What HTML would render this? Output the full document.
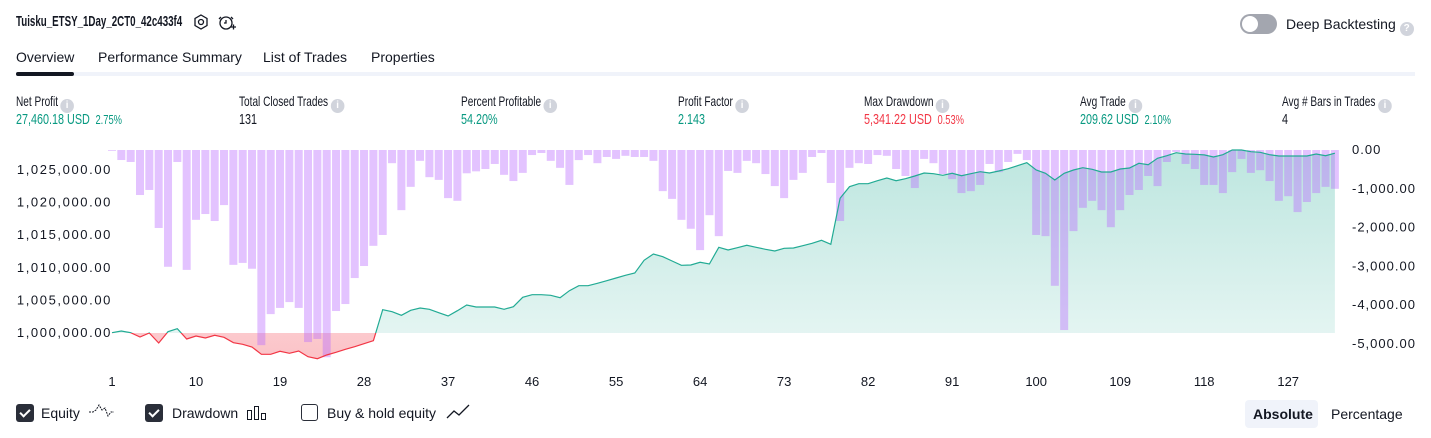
<!DOCTYPE html>
<html><head><meta charset="utf-8">
<style>
html,body{margin:0;padding:0;background:#fff;width:1431px;height:438px;overflow:hidden;position:relative;font-family:"Liberation Sans",sans-serif;color:#131722}
.a{position:absolute;white-space:nowrap;font-size:14px;line-height:16px;transform-origin:0 50%}
.s{transform:scaleX(.72)}
.g{color:#089981}.r{color:#f23645}
.info{display:inline-block;width:14px;height:14px;border-radius:50%;background:#d1d4dc;color:#fff;font-size:10px;line-height:14px;text-align:center;vertical-align:-2px;margin-left:6px;font-weight:bold;transform:scaleX(1.35)}
.cb{position:absolute;width:18px;height:18px;border-radius:3px;top:404px}
.cb.on{background:#2a2e39}
.cb.off{border:1.5px solid #2a2e39;width:15px;height:15px;background:#fff}
.cb.on::after{content:"";position:absolute;left:6px;top:3px;width:4px;height:8px;border:solid #fff;border-width:0 2px 2px 0;transform:rotate(45deg)}
</style></head><body>
<div class="a" style="left:16px;top:14px;font-weight:bold;font-size:15px;transform:scaleX(.65)">Tuisku_ETSY_1Day_2CT0_42c433f4</div>
<svg style="position:absolute;left:191px;top:12px" width="20" height="20"><polygon points="10,3 16,6.5 16,13.5 10,17 4,13.5 4,6.5" fill="none" stroke="#131722" stroke-width="1.3"/><circle cx="10" cy="10" r="2.5" fill="none" stroke="#131722" stroke-width="1.3"/></svg>
<svg style="position:absolute;left:216px;top:12px" width="22" height="22"><circle cx="10" cy="11" r="6" fill="none" stroke="#131722" stroke-width="1.3"/><path d="M10 8v3h-2M5 5l-2 2M15 5l2 2M15 15h5M17.5 12.5v5" fill="none" stroke="#131722" stroke-width="1.3"/></svg>
<div style="position:absolute;left:1240px;top:14px;width:37px;height:20px;border-radius:10px;background:#a3a6af"><div style="position:absolute;left:2px;top:2px;width:16px;height:16px;border-radius:50%;background:#fff"></div></div>
<div class="a" style="left:1286px;top:16px;font-size:14px">Deep Backtesting<span class="info" style="margin-left:4px;transform:none">?</span></div>

<div class="a" style="left:16px;top:49px">Overview</div>
<div class="a" style="left:98px;top:49px">Performance Summary</div>
<div class="a" style="left:263px;top:49px">List of Trades</div>
<div class="a" style="left:371px;top:49px">Properties</div>
<div style="position:absolute;left:16px;top:72px;width:1399px;height:4px;background:#f0f3fa"></div>
<div style="position:absolute;left:16px;top:72px;width:58px;height:4px;border-radius:2px;background:#131722"></div>

<div class="a s" style="left:16px;top:93px">Net Profit<span class="info">i</span></div>
<div class="a s g" style="left:16px;top:112px;font-size:15px">27,460.18 USD <span style="font-size:13px">&nbsp;2.75%</span></div>
<div class="a s" style="left:239px;top:93px">Total Closed Trades<span class="info">i</span></div>
<div class="a s" style="left:239px;top:112px;font-size:15px">131</div>
<div class="a s" style="left:461px;top:93px">Percent Profitable<span class="info">i</span></div>
<div class="a s g" style="left:461px;top:112px;font-size:15px">54.20%</div>
<div class="a s" style="left:678px;top:93px">Profit Factor<span class="info">i</span></div>
<div class="a s g" style="left:678px;top:112px;font-size:15px">2.143</div>
<div class="a s" style="left:864px;top:93px">Max Drawdown<span class="info">i</span></div>
<div class="a s r" style="left:864px;top:112px;font-size:15px">5,341.22 USD <span style="font-size:13px">&nbsp;0.53%</span></div>
<div class="a s" style="left:1080px;top:93px">Avg Trade<span class="info">i</span></div>
<div class="a s g" style="left:1080px;top:112px;font-size:15px">209.62 USD <span style="font-size:13px">&nbsp;2.10%</span></div>
<div class="a s" style="left:1282px;top:93px">Avg # Bars in Trades<span class="info">i</span></div>
<div class="a s" style="left:1282px;top:112px;font-size:15px">4</div>

<svg id="chart" style="position:absolute;left:0;top:0" width="1431" height="438">
<defs>
<linearGradient id="gg" x1="0" y1="0" x2="0" y2="1"><stop offset="0" stop-color="#22ab94" stop-opacity=".3"/><stop offset="1" stop-color="#22ab94" stop-opacity=".1"/></linearGradient>
<linearGradient id="rg" x1="0" y1="0" x2="0" y2="1"><stop offset="0" stop-color="#f23645" stop-opacity=".03"/><stop offset="1" stop-color="#f23645" stop-opacity=".3"/></linearGradient>
<clipPath id="above"><rect x="0" y="0" width="1431" height="333"/></clipPath>
<clipPath id="below"><rect x="0" y="333" width="1431" height="100"/></clipPath>
</defs>
<g id="ylab"></g><g id="rlab"></g><g id="xlab"></g>
<g id="area"></g><g id="bars"></g><g id="line"></g>
</svg>

<div class="cb on" style="left:16px"></div>
<div class="a" style="left:41px;top:405px;font-size:14px">Equity</div>
<svg style="position:absolute;left:88px;top:402px" width="26" height="20"><path d="M1 10h4l3-2 3-5 3 5 3-2 3 8 3-4h3" fill="none" stroke="#131722" stroke-width="1" stroke-dasharray="2 1"/></svg>
<div class="cb on" style="left:145px"></div>
<div class="a" style="left:172px;top:405px;font-size:14px">Drawdown</div>
<svg style="position:absolute;left:246px;top:404px" width="22" height="18"><rect x="1.5" y="6.5" width="4" height="9" fill="none" stroke="#131722"/><rect x="8.5" y="2.5" width="4" height="13" fill="none" stroke="#131722"/><rect x="15.5" y="9.5" width="4" height="6" fill="none" stroke="#131722"/></svg>
<div class="cb off" style="left:301px"></div>
<div class="a" style="left:327px;top:405px;font-size:14px">Buy &amp; hold equity</div>
<svg style="position:absolute;left:445px;top:403px" width="26" height="18"><path d="M2 15l7-7 5 4 10-10" fill="none" stroke="#131722" stroke-width="1.3"/></svg>
<div style="position:absolute;left:1245px;top:400px;width:73px;height:28px;border-radius:4px;background:#f0f3fa"></div>
<div class="a" style="left:1253px;top:406px;font-size:14px;font-weight:bold">Absolute</div>
<div class="a" style="left:1331px;top:406px;font-size:14px">Percentage</div>

<script>
const equity=[1000.05,1000.3,1000.05,999.39,1000.0,998.47,1000.2,1000.66,999.08,999.54,999.23,999.65,999.34,998.51,998.27,997.85,996.73,996.73,997.19,996.89,997.24,996.36,996.06,996.63,997.04,997.5,997.9,998.36,998.82,1003.57,1003.27,1002.72,1003.48,1003.84,1003.64,1003.11,1002.61,1003.42,1004.3,1003.99,1003.99,1003.99,1003.64,1004.03,1005.48,1005.88,1005.88,1005.78,1005.42,1006.49,1007.26,1007.26,1007.62,1008.02,1008.44,1008.85,1009.2,1011.15,1012.12,1011.7,1011.04,1010.39,1010.43,1010.85,1010.58,1013.15,1012.73,1013.09,1013.45,1013.15,1012.84,1012.58,1012.99,1013.04,1013.39,1013.76,1014.22,1013.61,1020.66,1022.44,1022.9,1022.9,1023.36,1023.78,1023.36,1023.67,1024.08,1024.54,1024.44,1024.19,1024.5,1024.13,1024.44,1024.74,1024.54,1024.85,1025.2,1025.66,1026.12,1025.0,1024.5,1023.47,1024.5,1025.0,1025.36,1025.11,1024.7,1024.7,1025.16,1025.31,1026.03,1025.82,1026.8,1027.2,1027.66,1027.46,1027.41,1027.31,1027.0,1027.35,1028.07,1028.07,1027.81,1027.72,1027.35,1027.15,1027.15,1027.15,1027.15,1027.46,1027.2,1027.57];
const drawdown=[-20,-258,-309,-1160,-1030,-2010,-3010,-309,-3090,-1800,-1650,-1830,-1420,-2960,-2910,-3060,-5030,-4230,-4070,-3920,-4070,-4950,-4870,-5341,-4150,-3970,-3300,-2990,-2470,-2190,-340,-1550,-950,-280,-700,-770,-1240,-1310,-600,-550,-490,-360,-640,-800,-590,-130,-77,-280,-460,-900,-260,-130,-340,-180,-230,-150,-180,-180,-280,-1060,-1260,-1800,-2030,-2580,-1680,-2220,-540,-590,-280,-340,-620,-930,-1240,-770,-590,-180,-77,-850,-1830,-460,-340,-360,-130,-150,-490,-670,-980,-230,-340,-620,-750,-1110,-1060,-900,-360,-570,-309,-100,-260,-2190,-2220,-3500,-4640,-2090,-1490,-1310,-1550,-1990,-1550,-1160,-1030,-670,-930,-309,-50,-360,-490,-900,-900,-1110,-570,-230,-590,-520,-800,-1310,-1190,-1600,-1340,-1110,-950,-1000];
const leftTicks=[1000000,1005000,1010000,1015000,1020000,1025000];
const rightTicks=[0,-1000,-2000,-3000,-4000,-5000];
const xTicks=[1,10,19,28,37,46,55,64,73,82,91,100,109,118,127];
const NS='http://www.w3.org/2000/svg';
const X=i=>112+i*9.335;
const YL=v=>333-(v-1000)*6.52;
const YR=v=>150+(-v)*0.0388;
function mk(t,a,p){const e=document.createElementNS(NS,t);for(const k in a)e.setAttribute(k,a[k]);p.appendChild(e);return e;}
const fmt=n=>n.toLocaleString('en-US',{minimumFractionDigits:2,maximumFractionDigits:2});
const yl=document.getElementById('ylab'),rl=document.getElementById('rlab'),xl=document.getElementById('xlab');
leftTicks.forEach(v=>{const t=mk('text',{x:112,y:YL(v/1000)+4,'text-anchor':'end','font-size':13,'letter-spacing':1.6,fill:'#131722','font-family':'Liberation Sans'},yl);t.textContent=fmt(v);

});
rightTicks.forEach(v=>{const t=mk('text',{x:1352,y:YR(v)+4,'font-size':13,'letter-spacing':1,fill:'#131722','font-family':'Liberation Sans'},rl);t.textContent=fmt(v);

});
xTicks.forEach(v=>{const t=mk('text',{x:X(v-1),y:386,'text-anchor':'middle','font-size':13,fill:'#131722','font-family':'Liberation Sans'},xl);t.textContent=v;

});
const pts=equity.map((v,i)=>X(i).toFixed(1)+','+YL(v).toFixed(1)).join(' ');
const base=YL(1000);
const areaD='M'+X(0)+','+base+' L'+pts.split(' ').join(' L')+' L'+X(equity.length-1)+','+base+' Z';
const ag=document.getElementById('area');
const a1=mk('path',{d:areaD,fill:'url(#gg)','clip-path':'url(#above)'},ag);


const a2=mk('path',{d:areaD,fill:'url(#rg)','clip-path':'url(#below)'},ag);


const bg=document.getElementById('bars');
drawdown.forEach((v,i)=>{const y=YR(v);const r=mk('rect',{x:X(i)-4,y:150,width:8,height:Math.max(0.8,y-150),fill:'rgba(186,104,255,0.4)'},bg);

});
const lg=document.getElementById('line');
const l1=mk('polyline',{points:pts,fill:'none',stroke:'#22ab94','stroke-width':1.2,'clip-path':'url(#above)'},lg);


const l2=mk('polyline',{points:pts,fill:'none',stroke:'#f23645','stroke-width':1.2,'clip-path':'url(#below)'},lg);


</script>
</body></html>
